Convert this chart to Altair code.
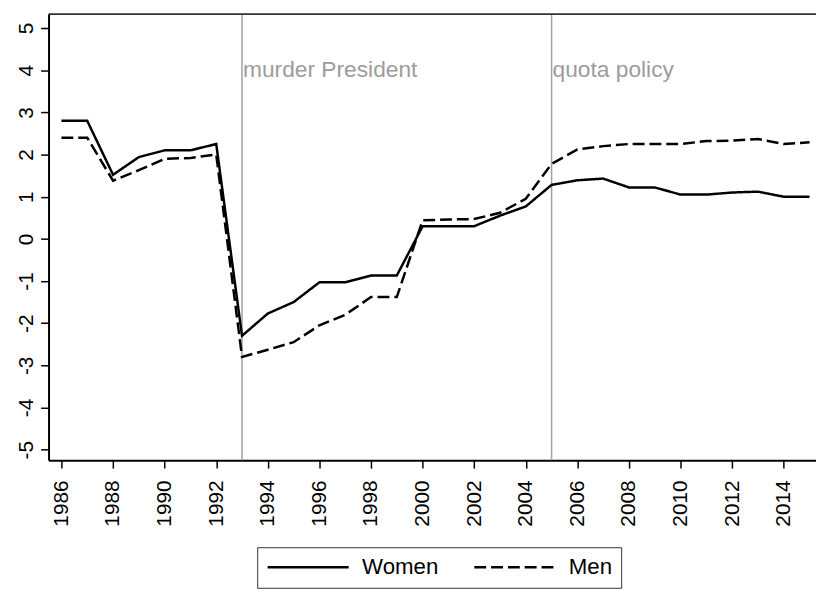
import altair as alt
import pandas as pd

years = list(range(1986, 2016))
women = [2.8, 2.8, 1.52, 1.94, 2.1, 2.1, 2.25, -2.3, -1.77, -1.5, -1.03, -1.03, -0.87, -0.87,
         0.3, 0.3, 0.3, 0.55, 0.77, 1.28, 1.39, 1.43, 1.22, 1.22, 1.05, 1.05, 1.1, 1.12, 1.0, 1.0]
men = [2.4, 2.4, 1.38, 1.63, 1.9, 1.92, 2.0, -2.8, -2.63, -2.45, -2.05, -1.8, -1.38, -1.38,
       0.44, 0.46, 0.47, 0.62, 0.95, 1.78, 2.12, 2.2, 2.25, 2.25, 2.25, 2.32, 2.33, 2.37, 2.25, 2.29]
series_names = ["Women", "Men"]

event_years = [1993, 2005]
event_labels = ["murder President", "quota policy"]
event_label_y = [4, 4]

x_ticks = list(range(1986, 2015, 2))
y_ticks = list(range(-5, 6))

df = pd.DataFrame({
    "year": years * 2,
    "value": women + men,
    "series": [series_names[0]] * len(years) + [series_names[1]] * len(years),
})
df_ev = pd.DataFrame({"year": event_years, "label": event_labels, "y": event_label_y})

FONT = "Liberation Sans"
XSCALE = alt.Scale(domain=[1985.5, 2015.25], nice=False, zero=False)

x_axis = alt.Axis(values=x_ticks, format="d", labelAngle=-90, title=None, grid=False,
                  tickSize=8, labelPadding=12)

x_enc = alt.X("year:Q", scale=XSCALE, axis=x_axis)
y_enc = alt.Y(
    "value:Q",
    scale=alt.Scale(domain=[-5.25, 5.33], nice=False, zero=False),
    axis=alt.Axis(values=y_ticks, labelAngle=-90, title=None, grid=False,
                  tickSize=8, labelPadding=4, labelExpr="datum.value + ''"),
)

# top frame line of the plot area
frame_top = alt.Chart(df_ev).mark_rule(color="#333333", strokeWidth=1.5).encode(
    y=alt.value(0)
)

rules = alt.Chart(df_ev).mark_rule(color="#a0a0a0", strokeWidth=1.5).encode(
    x=alt.X("year:Q", scale=XSCALE, axis=x_axis)
)

lines = alt.Chart(df).mark_line(color="black", strokeWidth=2.5).encode(
    x=x_enc,
    y=y_enc,
    strokeDash=alt.StrokeDash(
        "series:N",
        scale=alt.Scale(domain=series_names, range=[[1, 0], [12, 5]]),
        legend=alt.Legend(
            title=None,
            orient="none",
            legendX=211,
            legendY=539,
            direction="horizontal",
            symbolType="stroke",
            symbolSize=6724,
            symbolStrokeWidth=2.5,
            symbolStrokeColor="black",
            clipHeight=22,
            labelFontSize=22.5,
            labelFont=FONT,
            labelColor="black",
            strokeColor="#333333",
            padding=9,
            columnPadding=34,
            labelOffset=12,
        ),
    ),
)

texts = alt.Chart(df_ev).mark_text(
    align="left", baseline="middle", fontSize=23, color="#9c9c9c", font=FONT, dx=1
).encode(
    x=alt.X("year:Q", scale=XSCALE, axis=x_axis),
    y=alt.Y("y:Q"),
    text="label:N",
)

chart = alt.layer(rules, frame_top, lines, texts).properties(
    width=776,
    height=451,
    padding={"left": 41, "top": 3, "right": 0, "bottom": 128},
    autosize=alt.AutoSizeParams(type="none"),
).configure_view(
    strokeWidth=0
).configure_axis(
    domainColor="black", domainWidth=2, tickColor="black", tickWidth=1.5,
    labelFont=FONT, labelFontSize=21, labelColor="black",
)

chart.save("out.html", embed_options={"renderer": "svg", "actions": False})
